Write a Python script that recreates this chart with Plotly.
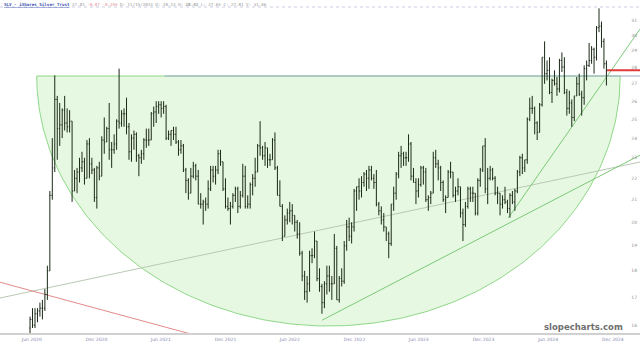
import numpy as np
import pandas as pd
import plotly.graph_objects as go

# ---------------- data (weekly SLV bars, mid-week dates) ----------------
week_start = "2020-05-27"
opens = [15.9,16.2,16.0,16.4,16.5,16.6,16.6,17.1,18.0,21.2,22.5,26.1,24.5,24.7,25.5,24.8,24.6,24.9,21.4,22.0,22.3,22.5,22.8,22.0,23.7,22.7,22.4,21.1,22.5,22.1,23.9,23.8,
         24.5,23.4,23.4,23.7,24.9,24.8,25.3,25.3,24.6,23.3,24.0,24.2,23.1,23.0,23.2,23.9,23.9,23.9,25.3,25.4,25.7,25.8,25.6,25.7,24.0,24.2,24.4,24.2,23.8,23.4,23.6,22.4,21.9,21.3,22.1,22.6,22.1,20.8,20.8,20.9,20.8,21.5,22.4,22.1,22.4,23.2,22.8,21.5,20.7,20.6,20.7,21.2,
         21.5,20.7,21.2,22.1,20.7,20.8,21.7,22.0,22.3,23.6,23.5,23.1,23.5,22.9,22.9,23.9,22.5,21.2,20.7,19.4,20.1,20.4,20.5,20.3,20.0,19.5,18.7,17.8,17.2,17.5,18.6,18.6,19.2,17.7,17.4,16.8,17.5,17.8,17.5,17.5,18.9,16.9,17.7,17.6,19.0,19.8,19.4,19.8,21.4,21.6,21.4,21.8,
         22.2,22.0,22.4,22.0,21.8,20.8,20.5,20.1,19.8,19.5,19.1,20.8,21.3,22.2,23.1,23.2,23.0,23.0,23.7,22.1,21.8,21.4,21.7,22.5,22.3,21.0,21.1,21.3,23.0,22.7,22.5,21.8,21.0,21.1,22.3,22.3,21.2,21.4,21.6,20.4,19.9,20.7,21.5,21.3,21.3,20.4,21.9,22.4,23.6,21.5,22.0,22.4,
         22.0,21.3,21.3,20.8,21.0,20.9,20.6,21.2,20.9,21.4,22.3,23.0,22.5,22.9,25.0,25.6,25.6,24.8,24.3,25.8,28.6,27.6,27.8,26.5,27.2,27.0,26.7,28.4,28.0,26.5,25.6,25.9,25.1,26.3,27.0,26.4,26.2,27.9,28.1,28.4,29.1,28.6,30.5,30.6,29.6,28.2]
highs = [16.3,16.6,16.6,16.6,16.8,16.9,17.3,18.2,21.4,24.0,27.5,26.3,25.9,25.6,26.3,25.6,25.5,24.9,22.4,22.5,23.0,23.3,23.0,23.9,24.0,23.0,22.5,22.6,22.8,24.1,25.1,24.6,
         25.9,23.8,24.2,25.0,27.9,25.5,25.6,26.2,24.8,24.2,24.4,24.3,23.2,23.4,24.0,24.5,24.5,25.4,25.7,26.0,26.0,26.0,26.0,25.8,24.4,24.4,24.6,24.6,23.9,23.9,23.7,22.5,22.0,22.5,22.8,22.7,22.4,21.3,21.0,21.1,21.9,22.6,22.6,22.6,23.4,23.4,22.8,22.0,21.1,20.9,21.3,21.6,
         21.6,21.4,22.7,22.6,21.2,21.8,22.2,23.0,23.7,24.9,23.6,23.8,23.5,23.2,24.0,24.3,22.6,21.9,20.8,20.3,20.6,20.9,20.8,20.3,20.1,20.0,18.8,18.0,17.8,18.8,18.9,19.6,19.2,18.1,17.5,17.6,18.2,18.2,17.8,19.5,19.0,17.8,18.1,19.2,20.1,20.2,20.0,21.5,21.6,22.0,22.1,22.3,
         22.4,22.6,22.6,22.2,22.4,20.9,20.7,20.4,19.8,19.6,20.8,21.6,22.3,23.3,23.6,23.3,23.3,24.2,23.8,22.5,22.0,22.0,22.6,22.6,22.5,21.2,21.4,23.3,23.4,22.9,22.6,21.9,21.2,22.4,22.8,22.3,21.6,22.0,21.6,20.6,20.9,21.6,21.6,21.6,21.3,22.0,22.5,23.6,24.0,22.5,22.6,22.5,
         22.1,21.6,21.3,21.2,21.6,21.0,21.3,21.4,21.5,22.4,23.1,23.2,22.9,25.1,26.2,26.3,25.7,24.9,25.9,28.6,29.6,28.4,28.6,27.3,27.8,27.4,28.5,28.9,28.6,26.7,26.6,26.1,26.3,27.4,27.6,26.6,28.1,28.4,29.5,29.3,29.2,30.6,31.8,30.9,29.8,28.4]
lows = [15.6,15.9,15.9,16.1,16.3,16.2,16.5,16.9,18.0,21.0,22.3,22.9,23.6,24.0,24.4,24.3,24.3,20.9,21.4,21.3,21.8,22.3,21.7,22.0,22.0,22.2,20.9,20.6,21.9,22.1,23.2,23.8,
        22.9,22.5,23.2,23.4,24.5,24.6,24.6,24.2,22.9,22.8,23.4,22.8,22.1,22.7,22.9,23.5,23.6,23.9,24.6,24.8,25.3,25.1,25.3,23.9,23.9,23.6,23.9,23.7,23.1,23.2,22.3,21.3,21.0,21.3,22.0,21.9,20.8,20.6,19.9,20.5,20.6,21.4,21.8,21.7,22.2,22.6,21.4,20.6,20.5,19.9,20.6,20.9,
        20.4,20.6,21.1,20.6,20.6,20.6,21.2,21.6,22.3,23.1,22.9,22.6,22.5,22.6,22.9,22.4,21.2,20.7,19.2,19.4,19.9,20.0,19.9,19.6,19.3,18.6,17.6,16.9,16.8,17.2,18.3,18.5,17.6,17.2,16.4,16.6,17.1,17.2,16.9,17.5,16.9,16.8,17.4,17.5,18.8,19.2,19.1,19.6,20.5,21.0,21.1,21.6,
        21.4,21.5,21.9,21.5,20.7,20.3,19.9,19.6,19.2,18.5,19.0,20.5,21.0,22.0,22.5,22.6,22.6,22.8,21.9,21.8,20.8,21.1,21.6,21.7,20.9,20.5,20.8,21.3,22.5,21.9,21.4,20.9,20.4,21.1,22.0,21.1,20.9,21.2,20.2,19.2,19.8,20.6,20.9,20.9,20.3,20.3,21.6,22.3,21.3,20.8,21.9,21.9,
        21.2,20.8,20.3,20.6,20.8,20.4,20.2,20.8,20.5,21.3,22.1,22.2,22.3,22.7,24.9,25.3,24.2,23.9,24.3,25.7,27.0,27.2,26.4,25.9,26.9,26.3,26.5,27.7,26.4,25.2,25.3,24.6,24.9,26.3,26.3,25.2,25.8,27.2,28.0,28.2,27.6,28.4,30.2,29.2,27.9,26.9]
closes = [16.2,16.0,16.4,16.5,16.6,16.6,17.1,18.0,21.2,22.5,26.1,24.5,24.7,25.5,24.8,24.6,24.9,21.4,22.0,22.3,22.5,22.8,22.0,23.7,22.7,22.4,21.1,22.5,22.1,23.9,23.8,24.5,
          23.4,23.4,23.7,24.9,24.8,25.3,25.3,24.6,23.3,24.0,24.2,23.1,23.0,23.2,23.9,23.9,23.9,25.3,25.4,25.7,25.8,25.6,25.7,24.0,24.2,24.4,24.2,23.8,23.4,23.6,22.4,21.9,21.3,22.1,22.6,22.1,20.8,20.8,20.9,20.8,21.5,22.4,22.1,22.4,23.2,22.8,21.5,20.7,20.6,20.7,21.2,21.5,
          20.7,21.2,22.1,20.7,20.8,21.7,22.0,22.3,23.6,23.5,23.1,23.5,22.9,22.9,23.9,22.5,21.2,20.7,19.4,20.1,20.4,20.5,20.3,20.0,19.5,18.7,17.8,17.2,17.5,18.6,18.6,19.2,17.7,17.4,16.8,17.5,17.8,17.5,17.5,18.9,16.9,17.7,17.6,19.0,19.8,19.4,19.8,21.4,21.6,21.4,21.8,22.2,
          22.0,22.4,22.0,21.8,20.8,20.5,20.1,19.8,19.5,19.1,20.8,21.3,22.2,23.1,23.2,23.0,23.0,23.7,22.1,21.8,21.4,21.7,22.5,22.3,21.0,21.1,21.3,23.0,22.7,22.5,21.8,21.0,21.1,22.3,22.3,21.2,21.4,21.6,20.4,19.9,20.7,21.5,21.3,21.3,20.4,21.9,22.4,23.6,21.5,22.0,22.4,22.0,
          21.3,21.3,20.8,21.0,20.9,20.6,21.2,20.9,21.4,22.3,23.0,22.5,22.9,25.0,25.6,25.6,24.8,24.3,25.8,28.6,27.6,27.8,26.5,27.2,27.0,26.7,28.4,28.0,26.5,25.6,25.9,25.1,26.3,27.0,26.4,26.2,27.9,28.1,28.4,29.1,28.6,30.5,30.6,29.6,28.2,27.81]

dates = pd.date_range(week_start, periods=len(closes), freq="7D")

# x-axis tick labels
tick_dates = ["2020-06-01", "2020-12-01", "2021-06-01", "2021-12-01", "2022-06-01",
              "2022-12-01", "2023-06-01", "2023-12-01", "2024-06-01", "2024-12-01"]
tick_text = ["Jun 2020", "Dec 2020", "Jun 2021", "Dec 2021", "Jun 2022",
             "Dec 2022", "Jun 2023", "Dec 2023", "Jun 2024", "Dec 2024"]
y_ticks = list(range(16, 32))

# drawn annotations (trendlines / levels)
bowl_left, bowl_right = "2020-06-15", "2024-12-22"
bowl_rim, bowl_floor = 27.46, 15.97
rim_line_dates, rim_line_prices = ["2021-06-12", "2025-02-16"], [27.46, 27.46]
red_level_dates, red_level_prices = ["2024-11-15", "2025-02-16"], [27.81, 27.81]
gray_line_dates, gray_line_prices = ["2020-03-03", "2025-02-16"], [16.97, 22.79]
red_diag_dates, red_diag_prices = ["2020-03-03", "2022-02-08"], [17.56, 15.16]
green_low_dates, green_low_prices = ["2022-08-31", "2025-02-16"], [16.17, 23.13]
green_steep_dates, green_steep_prices = ["2024-02-09", "2025-02-16"], [20.18, 30.4]

x_range = ["2020-03-03", "2025-02-16"]
y_range_prices = [15.73, 32.38]
y_log_range = [np.log10(y_range_prices[0]), np.log10(y_range_prices[1])]

# ---------------- figure ----------------
fig = go.Figure()

# bowl (half ellipse in date / log-price space) on the base axes (drawn first)
t = np.linspace(0, np.pi, 200)
l, r = pd.Timestamp(bowl_left), pd.Timestamp(bowl_right)
mid = l + (r - l) / 2
half = (r - l) / 2
bx = [mid + half * c for c in np.cos(t)]
lr, lf = np.log10(bowl_rim), np.log10(bowl_floor)
by = 10 ** (lr - (lr - lf) * np.sin(t))
fig.add_trace(go.Scatter(x=bx + [bx[0]], y=list(by) + [by[0]], mode="lines",
                         fill="toself", fillcolor="#e6f8e1",
                         line=dict(color="#8fd888", width=1), hoverinfo="skip",
                         showlegend=False))

def seg(xs, ys, color, width, xa="x", ya="y"):
    fig.add_trace(go.Scatter(x=xs, y=ys, mode="lines", line=dict(color=color, width=width),
                             hoverinfo="skip", showlegend=False, xaxis=xa, yaxis=ya))

seg(gray_line_dates, gray_line_prices, "#b9c9b4", 1)
seg(red_diag_dates, red_diag_prices, "#e58a8a", 1)
seg(green_low_dates, green_low_prices, "#7cc978", 1)
seg(green_steep_dates, green_steep_prices, "#7cc978", 1)
seg(rim_line_dates, rim_line_prices, "#9ea9cc", 1.2)

# price bars on an overlaid copy of the axes so they sit above the bowl fill
fig.add_trace(go.Ohlc(x=dates, open=opens, high=highs, low=lows, close=closes,
                      increasing=dict(line=dict(color="#1c2a18", width=1)),
                      decreasing=dict(line=dict(color="#1c2a18", width=1)),
                      tickwidth=0.35, hoverinfo="skip", showlegend=False,
                      xaxis="x2", yaxis="y2"))

seg(red_level_dates, red_level_prices, "#e03a3a", 2, "x2", "y2")

fig.update_layout(
    width=640, height=344,
    margin=dict(l=0, r=0, t=0, b=11),
    paper_bgcolor="white", plot_bgcolor="white",
    showlegend=False,
    font=dict(family="DejaVu Sans", size=5, color="#8a8a9a"),
    xaxis=dict(type="date", range=x_range, rangeslider=dict(visible=False),
               tickvals=tick_dates, ticktext=tick_text, showgrid=False, zeroline=False,
               showline=True, linecolor="#d0d0d0", linewidth=2, ticks="",
               tickfont=dict(size=4.5, color="#8587ad"), ticklabelstandoff=1),
    yaxis=dict(type="log", range=y_log_range,
               side="right", ticklabelposition="inside", tickvals=y_ticks,
               ticktext=[str(v) for v in y_ticks], showgrid=False, zeroline=False,
               showline=False, ticks="", tickfont=dict(size=4.5, color="#8f8f8f")),
    xaxis2=dict(type="date", range=x_range, overlaying="x", visible=False,
                rangeslider=dict(visible=False)),
    yaxis2=dict(type="log", range=y_log_range, overlaying="y", visible=False),
    shapes=[dict(type="line", xref="paper", yref="paper", x0=0, x1=1, y0=0.979, y1=0.979,
                 line=dict(color="#c9cfe2", width=1, dash="dot"))],
    annotations=[
        dict(xref="paper", yref="paper", x=0.003, y=0.999, xanchor="left", yanchor="top",
             showarrow=False, align="left",
             text=("<span style='color:#3a4fb0'><b><u>SLV - iShares Silver Trust</u></b></span>"
                   " <span style='color:#9a9a9a'>27.81</span>"
                   " <span style='color:#e08a8a'>-0.07 -0.25%</span>"
                   " <span style='color:#9a9a9a'>D: 11/15/2024 O: 28.13 H: <b>28.42</b> L: 27.65 C: 27.81 V: 31.66</span>"),
             font=dict(family="DejaVu Sans Mono", size=4.2)),
        dict(xref="paper", yref="paper", x=0.911, y=0.017, xanchor="center", yanchor="middle",
             showarrow=False, text="<b>slopecharts.com</b>",
             font=dict(family="DejaVu Sans", size=8.5, color="#6f6f6f")),
    ],
)

fig.write_html("out.html")
